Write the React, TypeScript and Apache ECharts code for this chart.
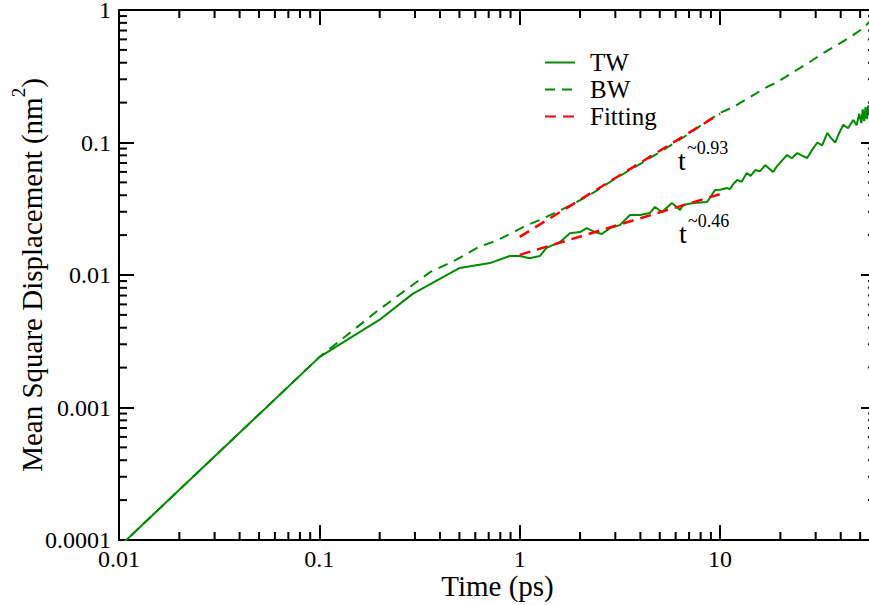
import React, { useEffect, useRef } from "react";
import * as echarts from "echarts";

// ---- data ----
const X_MIN = 0.01;
const X_MAX = 60;
const Y_MIN = 0.0001;
const Y_MAX = 1;

const xTickLabels = ["0.01", "0.1", "1", "10"];
const yTickLabels = ["0.0001", "0.001", "0.01", "0.1", "1"];

const twTime = [
  0.01, 0.1, 0.2, 0.292, 0.502, 0.71, 0.892, 1.0, 1.12, 1.26, 1.36, 1.585, 1.78, 2.0, 2.16, 2.37, 2.57,
  2.82, 3.16, 3.55, 3.98, 4.47, 4.73, 5.13, 5.75, 6.31, 6.53, 7.33, 8.61, 9.44, 10.0, 10.8, 11.2, 11.7,
  12.2, 12.8, 13.6, 14.2, 15.0, 15.8, 16.8, 17.5, 18.4, 19.2, 20.2, 21.6, 22.8, 24.3, 25.5, 27.2, 28.8,
  30.6, 32.3, 34.3, 35.8, 37.6, 39.3, 41.2, 43.5, 46.2, 48.0, 49.5, 50.7, 51.5, 52.4, 53.2, 54.0, 54.8,
  55.6, 57.0, 60.0,
];
const twMsd = [
  0.0000886, 0.0024, 0.0046, 0.0072, 0.0113, 0.0123, 0.0139, 0.0139, 0.0134, 0.0139, 0.016, 0.0177,
  0.0207, 0.0211, 0.0226, 0.0211, 0.0204, 0.0226, 0.0238, 0.0284, 0.0284, 0.0294, 0.0326, 0.0299,
  0.0349, 0.031, 0.0338, 0.0349, 0.0356, 0.0438, 0.044, 0.0453, 0.0445, 0.049, 0.0521, 0.0505, 0.0589,
  0.056, 0.062, 0.0605, 0.0676, 0.064, 0.0599, 0.066, 0.072, 0.0805, 0.076, 0.0833, 0.08, 0.0764,
  0.088, 0.1, 0.095, 0.118, 0.108, 0.1, 0.118, 0.136, 0.128, 0.148, 0.135, 0.165, 0.14, 0.178, 0.145,
  0.185, 0.15, 0.19, 0.16, 0.2, 0.2,
];

const bwTime = [
  0.01, 0.1, 0.193, 0.356, 0.48, 0.625, 0.76, 0.914, 1.06, 1.26, 1.53, 1.93, 2.32, 2.92, 3.98, 5.01,
  6.84, 8.61, 10.0, 11.6, 14.1, 16.8, 19.3, 23.2, 27.5, 32.7, 38.5, 44.7, 51.9, 55.6, 60.0,
];
const bwMsd = [
  0.0000886, 0.0024, 0.0053, 0.0105, 0.013, 0.0163, 0.0181, 0.0207, 0.0234, 0.026, 0.0299, 0.0356,
  0.0416, 0.0521, 0.0688, 0.0848, 0.114, 0.145, 0.167, 0.185, 0.22, 0.258, 0.286, 0.34, 0.398, 0.473,
  0.545, 0.625, 0.731, 0.812, 0.87,
];

const fitBwTime = [1.0, 10.0];
const fitBwMsd = [0.0194, 0.165];
const fitTwTime = [1.0, 10.0];
const fitTwMsd = [0.0142, 0.0408];

const seriesNames = ["TW", "BW", "Fitting"];
const annotations = ["~0.93", "~0.46"];

const GREEN = "#008c00";
const RED = "#ff0000";
const FONT = "Liberation Serif";

const pairs = (xs: number[], ys: number[]) => xs.map((x, i) => [x, ys[i]]);

function minorValues(min: number, max: number) {
  const out: number[] = [];
  for (let d = Math.floor(Math.log10(min)); d <= Math.ceil(Math.log10(max)); d++) {
    for (let m = 2; m <= 9; m++) {
      const v = m * Math.pow(10, d);
      if (v > min * 1.0001 && v < max * 0.9999) out.push(v);
    }
  }
  return out;
}

function labelFor(labels: string[], v: number) {
  const l = Math.log10(v);
  if (Math.abs(l - Math.round(l)) > 1e-6) return "";
  const hit = labels.find((s) => Math.abs(parseFloat(s) - v) / v < 1e-6);
  return hit ?? "";
}

export default function App() {
  const ref = useRef<HTMLDivElement>(null);
  useEffect(() => {
    if (!ref.current) return;
    const chart = echarts.init(ref.current, undefined, { renderer: "svg" });
    const axisLine = { show: true, lineStyle: { color: "#000", width: 2 } };
    const majorTick = { show: true, inside: true, length: 15, lineStyle: { color: "#000", width: 2 } };
    const MINOR = 8;
    const tickStyle = { stroke: "#000", lineWidth: 2 };
    const labelStyle = { fontFamily: FONT, fontSize: 24, color: "#000" };

    chart.setOption({
      animation: false,
      backgroundColor: "#fff",
      textStyle: { fontFamily: FONT, color: "#000" },
      grid: {
        left: 119,
        right: -7,
        top: 10,
        bottom: 65,
        containLabel: false,
        outerBoundsMode: "none",
      },
      legend: {
        data: seriesNames,
        orient: "vertical",
        left: 544,
        top: 50,
        padding: 0,
        itemWidth: 30,
        itemHeight: 14,
        itemGap: 2,
        itemStyle: { opacity: 0 },
        textStyle: { fontFamily: FONT, fontSize: 25, color: "#000", padding: [0, 0, 0, 10] },
      },
      xAxis: [
        {
          type: "log",
          logBase: 10,
          min: X_MIN,
          max: X_MAX,
          position: "bottom",
          axisLine,
          axisTick: majorTick,
          splitLine: { show: false },
          axisLabel: {
            ...labelStyle,
            margin: 7,
            formatter: (v: number) => labelFor(xTickLabels, v),
          },
          name: "Time (ps)",
          nameLocation: "middle",
          nameGap: 31,
          nameMoveOverlap: false,
          nameTextStyle: { fontFamily: FONT, fontSize: 29, color: "#000" },
        },
        {
          type: "log",
          logBase: 10,
          min: X_MIN,
          max: X_MAX,
          position: "top",
          axisLine,
          axisTick: majorTick,
          splitLine: { show: false },
          axisLabel: { show: false },
        },
      ],
      yAxis: [
        {
          type: "log",
          logBase: 10,
          min: Y_MIN,
          max: Y_MAX,
          position: "left",
          axisLine,
          axisTick: majorTick,
          splitLine: { show: false },
          axisLabel: {
            ...labelStyle,
            margin: 8,
            formatter: (v: number) => labelFor(yTickLabels, v),
          },
          name: "{a|Mean Square Displacement (nm}{s|2}{a|)}",
          nameLocation: "middle",
          nameGap: 64,
          nameMoveOverlap: false,
          nameTextStyle: {
            fontFamily: FONT,
            fontSize: 29,
            color: "#000",
            rich: {
              a: { fontFamily: FONT, fontSize: 29, color: "#000", lineHeight: 46 },
              s: { fontFamily: FONT, fontSize: 19, color: "#000", lineHeight: 20, verticalAlign: "top" },
            },
          },
        },
        {
          type: "log",
          logBase: 10,
          min: Y_MIN,
          max: Y_MAX,
          position: "right",
          axisLine,
          axisTick: majorTick,
          splitLine: { show: false },
          axisLabel: { show: false },
        },
      ],
      series: [
        {
          name: "TW",
          type: "line",
          data: pairs(twTime, twMsd),
          symbol: "none",
          lineStyle: { color: GREEN, width: 2 },
          itemStyle: { color: GREEN },
          z: 3,
        },
        {
          name: "BW",
          type: "line",
          data: pairs(bwTime, bwMsd),
          symbol: "none",
          lineStyle: { color: GREEN, width: 2, type: [10, 7] },
          itemStyle: { color: GREEN },
          z: 3,
        },
        {
          name: "Fitting",
          type: "line",
          data: pairs(fitBwTime, fitBwMsd),
          symbol: "none",
          lineStyle: { color: RED, width: 2.5, type: [11, 7] },
          itemStyle: { color: RED },
          z: 4,
        },
        {
          name: "Fitting",
          type: "line",
          data: pairs(fitTwTime, fitTwMsd),
          symbol: "none",
          lineStyle: { color: RED, width: 2.5, type: [11, 7] },
          itemStyle: { color: RED },
          z: 4,
        },
        {
          name: "minorX",
          type: "custom",
          silent: true,
          clip: false,
          data: minorValues(X_MIN, X_MAX).map((v) => [v, 0.01]),
          renderItem: (_p: any, api: any) => {
            const v = api.value(0);
            const b = api.coord([v, Y_MIN]);
            const t = api.coord([v, Y_MAX]);
            return {
              type: "group",
              children: [
                { type: "line", shape: { x1: b[0], y1: b[1], x2: b[0], y2: b[1] - MINOR }, style: tickStyle },
                { type: "line", shape: { x1: t[0], y1: t[1], x2: t[0], y2: t[1] + MINOR }, style: tickStyle },
              ],
            };
          },
        },
        {
          name: "minorY",
          type: "custom",
          silent: true,
          clip: false,
          data: minorValues(Y_MIN, Y_MAX).map((v) => [1, v]),
          renderItem: (_p: any, api: any) => {
            const v = api.value(1);
            const l = api.coord([X_MIN, v]);
            const r = api.coord([X_MAX, v]);
            return {
              type: "group",
              children: [
                { type: "line", shape: { x1: l[0], y1: l[1], x2: l[0] + MINOR, y2: l[1] }, style: tickStyle },
                { type: "line", shape: { x1: r[0], y1: r[1], x2: r[0] - MINOR, y2: r[1] }, style: tickStyle },
              ],
            };
          },
        },
      ],
      graphic: [
        { type: "text", left: 678, top: 146, style: { text: "t", fontFamily: FONT, fontSize: 28, fill: "#000" } },
        { type: "text", left: 687, top: 139, style: { text: annotations[0], fontFamily: FONT, fontSize: 18, fill: "#000" } },
        { type: "text", left: 679, top: 219, style: { text: "t", fontFamily: FONT, fontSize: 28, fill: "#000" } },
        { type: "text", left: 688, top: 212, style: { text: annotations[1], fontFamily: FONT, fontSize: 18, fill: "#000" } },
      ],
    });
    return () => chart.dispose();
  }, []);
  return (
    <div
      ref={ref}
      style={{ position: "fixed", left: 0, top: 0, width: 869, height: 605, background: "#fff" }}
    />
  );
}
